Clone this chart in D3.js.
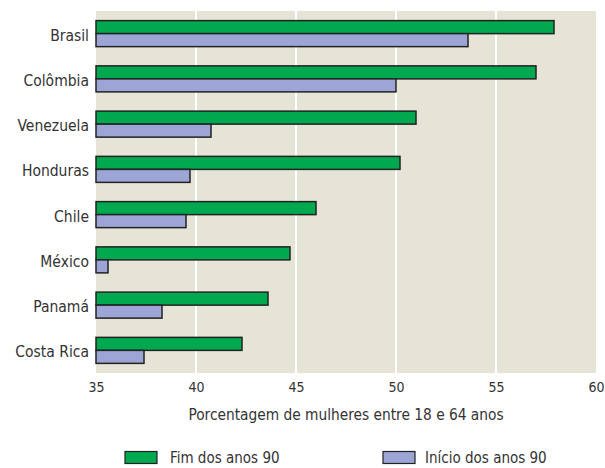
<!DOCTYPE html>
<html><head><meta charset="utf-8">
<script src="https://cdn.jsdelivr.net/npm/d3@7"></script>
<style>
body{margin:0;background:#fff;}
text{font-family:"Liberation Sans Narrow","DejaVu Sans Condensed",sans-serif;fill:#333;}
</style></head>
<body><svg id="c" width="605" height="468"></svg>
<script>
const categories = ["Brasil","Colômbia","Venezuela","Honduras","Chile","México","Panamá","Costa Rica"];
const fimValues = [57.9, 57.0, 51.0, 50.2, 46.0, 44.7, 43.6, 42.3];
const inicioValues = [53.6, 50.0, 40.75, 39.7, 39.5, 35.6, 38.3, 37.4];
const seriesNames = ["Fim dos anos 90", "Início dos anos 90"];
const tickValues = [35, 40, 45, 50, 55, 60];
const xTitle = "Porcentagem de mulheres entre 18 e 64 anos";
const colors = ["#00a94f", "#9ca5d6"];

const svg = d3.select("#c");
const m = {l:96, r:9, t:11, b:95};
const W = 605, H = 468;
const x = d3.scaleLinear().domain([35,60]).range([m.l, W-m.r]);
const y = d3.scaleBand().domain(categories).range([m.t, H-m.b]).paddingInner(0).paddingOuter(0);

svg.append("rect").attr("x", m.l).attr("y", m.t).attr("width", W-m.r-m.l).attr("height", H-m.b-m.t).attr("fill", "#e6e3d7");

svg.append("g").selectAll("line").data(tickValues.slice(1,-1)).join("line")
  .attr("x1", d=>x(d)).attr("x2", d=>x(d)).attr("y1", m.t).attr("y2", H-m.b)
  .attr("stroke", "#fff").attr("stroke-width", 2);

const bh = 13;
const rows = svg.append("g").selectAll("g").data(categories).join("g");
rows.append("rect").attr("x", x(35)).attr("y", d=>y(d)+y.bandwidth()/2-bh)
  .attr("width", (d,i)=>x(fimValues[i])-x(35)).attr("height", bh)
  .attr("fill", colors[0]).attr("stroke", "#222").attr("stroke-width", 1.5);
rows.append("rect").attr("x", x(35)).attr("y", d=>y(d)+y.bandwidth()/2)
  .attr("width", (d,i)=>x(inicioValues[i])-x(35)).attr("height", bh)
  .attr("fill", colors[1]).attr("stroke", "#222").attr("stroke-width", 1.5);

const yAxis = d3.axisLeft(y).tickSize(0).tickPadding(7);
const yg = svg.append("g").attr("transform", `translate(${m.l},0)`).call(yAxis);
yg.select(".domain").remove();
yg.selectAll("text").attr("font-size", 15.5).attr("dy", 7).style("fill","#333");

const xAxis = d3.axisBottom(x).tickValues(tickValues).tickSize(0).tickPadding(9);
const xg = svg.append("g").attr("transform", `translate(0,${H-m.b})`).call(xAxis);
xg.select(".domain").remove();
xg.selectAll("text").attr("font-size", 14).style("fill","#333");

svg.append("text").attr("x", (x(35)+x(60))/2).attr("y", 420).attr("text-anchor","middle")
  .attr("font-size", 15.3).text(xTitle);

const legend = [{x:125, tx:170}, {x:383, tx:425}];
legend.forEach((L,i)=>{
  svg.append("rect").attr("x", L.x).attr("y", 451.5).attr("width", 32).attr("height", 12)
    .attr("fill", colors[i]).attr("stroke", "#222").attr("stroke-width", 1.2);
  svg.append("text").attr("x", L.tx).attr("y", 463).attr("font-size", 15).text(seriesNames[i]);
});
</script></body></html>
